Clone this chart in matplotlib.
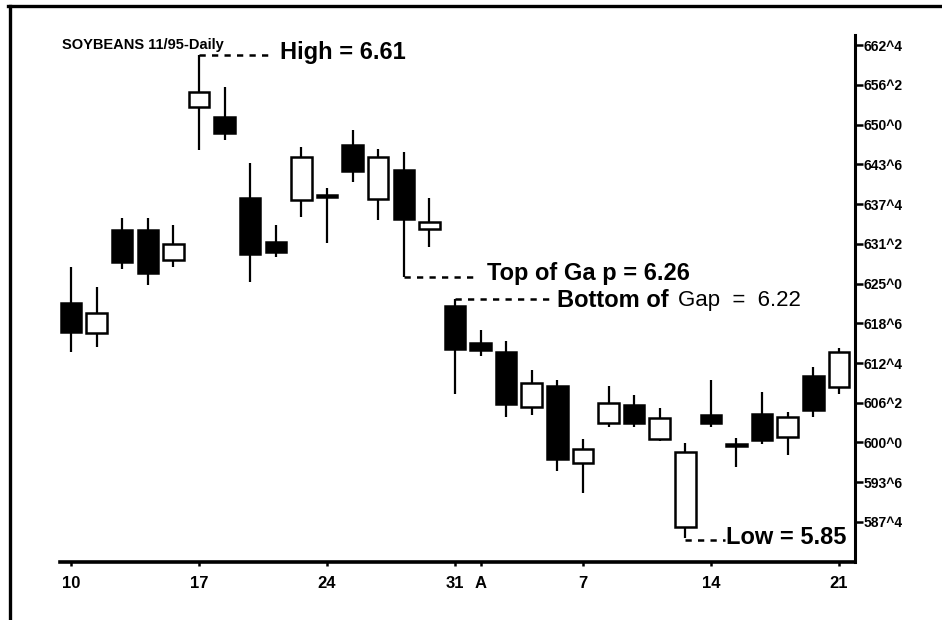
import matplotlib
matplotlib.use("Agg")
import matplotlib.pyplot as plt
from matplotlib.lines import Line2D

plt.rcParams["font.family"] = ["Liberation Sans", "DejaVu Sans"]
plt.rcParams["font.weight"] = "bold"

# ── données : séance par séance (cents) ─────────────────────────────────────
days   = list(range(31))
opens  = [621.9, 617.2, 633.4, 633.4, 628.7, 652.7, 651.2, 638.4, 631.5, 638.1,
          638.9, 646.8, 638.3, 642.8, 633.6, 621.4, 615.6, 614.2, 605.6, 608.9,
          596.8, 603.1, 605.9, 600.6, 586.7, 604.3, 599.8, 604.5, 600.9, 610.5,
          608.7]
highs  = [627.6, 624.5, 635.3, 635.3, 634.2, 661.0, 655.9, 644.0, 634.2, 646.5,
          640.0, 649.1, 646.1, 645.7, 638.4, 622.6, 617.7, 616.0, 611.4, 609.8,
          600.5, 608.9, 607.5, 605.4, 599.9, 609.8, 600.7, 607.9, 604.8, 611.9,
          614.9]
lows   = [614.2, 615.0, 627.3, 624.8, 627.6, 646.0, 647.6, 625.2, 629.2, 635.5,
          631.4, 641.0, 635.0, 626.0, 630.7, 607.6, 613.6, 604.0, 604.3, 595.5,
          592.1, 602.4, 602.4, 600.2, 585.0, 602.4, 596.2, 599.8, 598.0, 604.0,
          607.6]
closes = [617.4, 620.4, 628.4, 626.7, 631.2, 655.1, 648.7, 629.6, 630.0, 644.9,
          638.6, 642.7, 644.9, 635.1, 634.7, 614.7, 614.5, 606.1, 609.4, 597.4,
          599.0, 606.2, 603.1, 603.9, 598.5, 603.1, 599.5, 600.4, 604.0, 605.1,
          614.2]

xtick_pos    = [0, 5, 10, 15, 16, 20, 25, 30]
xtick_labels = ["10", "17", "24", "31", "A", "7", "14", "21"]
ytick_pos    = [587.5, 593.75, 600.0, 606.25, 612.5, 618.75, 625.0, 631.25,
                637.5, 643.75, 650.0, 656.25, 662.5]
ytick_labels = ["587^4", "593^6", "600^0", "606^2", "612^4", "618^6", "625^0",
                "631^2", "637^4", "643^6", "650^0", "656^2", "662^4"]

# ── figure ──────────────────────────────────────────────────────────────────
fig = plt.figure(figsize=(9.42, 6.2), dpi=100)
ax = fig.add_axes([60 / 942, 1 - 562 / 620, 795 / 942, 527 / 620])

ax.vlines(days, lows, highs, color="black", linewidth=1.6, zorder=1)
for d, o, h, l, c in zip(days, opens, highs, lows, closes):
    face = "white" if c > o else "black"
    ax.bar(d, max(abs(c - o), 0.3), bottom=min(o, c), width=0.8,
           facecolor=face, edgecolor="black", linewidth=1.8, zorder=2)

ax.set_xlim(-0.43, 30.63)
ax.set_ylim(581.2, 664.1)

for s in ["top", "left"]:
    ax.spines[s].set_visible(False)
ax.spines["bottom"].set_linewidth(2.6)
ax.spines["right"].set_linewidth(2.2)

ax.yaxis.tick_right()
ax.set_yticks(ytick_pos)
ax.set_yticklabels(ytick_labels)
ax.tick_params(axis="y", direction="out", length=6, width=1.8, labelsize=10, pad=0)
ax.set_xticks(xtick_pos)
ax.set_xticklabels(xtick_labels)
ax.tick_params(axis="x", direction="out", length=3, width=1.8, labelsize=12, pad=7)

# ── annotations ─────────────────────────────────────────────────────────────
dash = dict(color="black", linewidth=1.8, linestyle=(0, (2.5, 2.5)))
ax.plot([5, 7.95], [661.0, 661.0], **dash)
ax.text(8.15, 661.4, "High = 6.61", fontsize=17, va="center", ha="left")

ax.plot([13, 15.9], [626.0, 626.0], **dash)
ax.text(16.25, 626.6, "Top of Ga p = 6.26", fontsize=17, va="center", ha="left")

ax.plot([15, 18.85], [622.6, 622.6], **dash)
ax.text(18.98, 622.4, "Bottom of", fontsize=17, va="center", ha="left")
ax.text(23.7, 622.4, "Gap  =  6.22", fontsize=16, fontweight="normal",
        va="center", ha="left")

ax.plot([24, 25.55], [584.6, 584.6], **dash)
ax.text(25.6, 585.0, "Low = 5.85", fontsize=17, va="center", ha="left")

fig.text(62 / 942, 1 - 45 / 620, "SOYBEANS 11/95-Daily", fontsize=10.5,
         va="center", ha="left")

# cadre du scan
fig.add_artist(Line2D([8 / 942, 1], [1 - 6 / 620] * 2, color="black", linewidth=2.4))
fig.add_artist(Line2D([10 / 942] * 2, [0, 1 - 6 / 620], color="black", linewidth=2.4))

fig.savefig("out.png", dpi=100)
